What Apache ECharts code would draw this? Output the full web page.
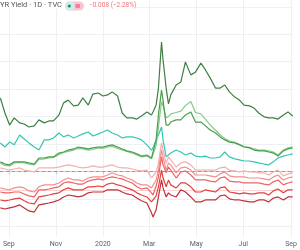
<!DOCTYPE html>
<html><head><meta charset="utf-8">
<script src="https://cdn.jsdelivr.net/npm/echarts@6/dist/echarts.min.js"></script>
<style>html,body{margin:0;padding:0;background:#fff}#c{width:300px;height:250px}</style>
</head><body><div id="c"></div>
<script>
const dates = ['2019-08-21','2019-08-27','2019-09-02','2019-09-08','2019-09-15','2019-09-21','2019-09-27','2019-10-04','2019-10-10','2019-10-17','2019-10-23','2019-10-29','2019-11-05','2019-11-11','2019-11-17','2019-11-24','2019-11-30','2019-12-06','2019-12-13','2019-12-19','2019-12-26','2020-01-01','2020-01-07','2020-01-13','2020-01-20','2020-01-26','2020-02-01','2020-02-08','2020-02-14','2020-02-20','2020-02-27','2020-03-04','2020-03-06','2020-03-10','2020-03-13','2020-03-17','2020-03-19','2020-03-23','2020-03-26','2020-03-29','2020-04-05','2020-04-11','2020-04-17','2020-04-24','2020-04-30','2020-05-07','2020-05-13','2020-05-19','2020-05-26','2020-06-01','2020-06-07','2020-06-13','2020-06-20','2020-06-26','2020-07-02','2020-07-09','2020-07-15','2020-07-21','2020-07-28','2020-08-03','2020-08-09','2020-08-15','2020-08-22','2020-08-28','2020-09-03'];

const darkGreen = [26.8,21.3,16.9,19.5,17.7,17.3,16.2,16.6,18.8,17.7,18.4,18.4,20.6,25.0,26.0,23.9,24.2,26.8,24.2,28.2,28.6,27.5,27.9,29.0,27.5,21.3,19.5,19.5,19.1,20.2,21.7,20.6,21.7,24.2,30.4,47.2,40.6,30.4,24.6,27.9,31.5,32.6,39.9,35.2,36.2,39.5,37.0,34.1,30.4,30.4,31.5,29.0,27.1,26.0,24.2,23.9,23.1,21.3,19.9,19.5,19.5,19.1,20.6,21.7,20.2];
const green = [3.5,2.7,2.4,3.5,3.5,3.5,3.1,2.7,4.9,4.9,5.3,5.3,6.7,7.1,7.8,8.2,8.9,8.6,8.2,8.6,8.9,8.9,9.3,9.7,8.9,8.2,7.5,7.1,6.4,5.6,6.0,4.9,4.2,11.5,20.6,29.7,26.0,16.9,16.9,18.0,18.8,18.8,20.6,21.7,18.0,18.0,16.6,15.1,14.0,12.6,11.5,10.7,10.4,9.7,8.9,8.6,7.8,7.5,7.5,7.1,6.7,5.6,7.5,8.2,8.6];
const lightGreen = [3.1,2.2,2.0,3.1,3.3,3.1,2.7,2.4,4.4,4.6,4.9,5.1,6.2,6.9,7.3,7.8,8.4,8.2,7.8,8.0,8.6,8.4,8.9,9.1,8.4,7.8,7.3,6.7,6.0,5.3,5.6,4.6,4.0,9.5,16.0,25.5,24.0,19.5,20.0,21.0,21.5,22.0,24.0,25.5,21.5,21.0,19.0,17.0,15.0,13.3,12.0,11.1,10.6,9.9,9.1,8.8,8.2,7.8,7.8,7.5,7.1,6.0,7.8,8.6,9.0];
const teal = [10.4,8.9,10.7,9.7,13.3,11.8,10.4,8.9,7.8,11.5,11.5,12.2,14.0,12.6,13.3,12.2,12.9,13.7,14.4,12.9,13.7,14.4,15.1,14.0,13.3,12.2,12.6,12.6,12.2,11.5,9.7,7.8,8.6,11.5,13.3,16.2,11.5,5.3,6.0,6.7,7.8,7.1,6.0,6.7,5.6,5.3,5.6,4.9,4.9,5.3,7.1,5.3,4.6,4.2,3.8,3.8,3.5,3.1,2.7,2.4,3.5,4.9,5.6,6.0,6.4];
const lightPink = [1.3,0.9,0.5,0.9,1.3,0.5,0.2,-0.2,1.3,1.3,1.3,1.3,1.6,2.0,2.4,2.0,1.6,1.3,1.6,2.0,1.6,1.6,2.0,2.4,1.6,1.3,1.3,0.9,0.5,0.2,0.5,-2.4,-3.1,-0.2,3.1,10.4,7.8,3.1,5.3,4.2,1.6,3.1,3.5,2.4,0.5,0.5,0.5,0.5,0.5,1.3,1.6,0.5,0.2,-0.2,0.2,-0.2,-0.2,-0.5,-0.5,-1.3,-0.2,0.5,-1.6,-0.9,-0.5];
const pink = [-6.0,-6.4,-6.7,-6.0,-5.6,-6.0,-7.1,-7.5,-5.6,-4.9,-4.9,-4.9,-4.2,-3.1,-2.4,-3.1,-3.1,-3.5,-2.4,-2.0,-2.0,-2.0,-1.3,-0.5,-1.3,-1.6,-2.4,-3.1,-4.2,-4.9,-4.9,-6.0,-6.7,-3.1,0.5,7.8,5.3,0.5,3.1,2.4,-0.5,1.3,1.6,0.5,-1.3,-1.3,-1.3,-1.6,-2.0,-0.9,-0.2,-1.6,-2.0,-2.0,-2.0,-2.4,-2.4,-2.4,-2.7,-3.1,-2.0,-1.3,-3.1,-2.4,-2.0];
const salmon = [-7.5,-7.8,-7.8,-7.5,-7.5,-8.2,-8.9,-9.3,-6.7,-6.7,-6.4,-6.0,-5.6,-4.2,-3.8,-4.2,-4.6,-4.6,-3.5,-3.1,-2.7,-3.1,-2.4,-2.0,-2.4,-2.7,-3.5,-4.2,-5.6,-6.4,-6.0,-7.8,-8.6,-5.3,-2.0,5.3,2.4,-0.5,1.6,0.5,-2.4,-0.2,0.2,-1.3,-3.1,-3.1,-3.1,-3.5,-3.8,-2.4,-2.0,-3.5,-3.8,-3.8,-4.2,-4.2,-4.2,-4.2,-4.6,-4.9,-3.8,-3.1,-4.9,-4.2,-3.8];
const red = [-10.4,-10.7,-10.4,-10.0,-9.7,-10.7,-11.5,-11.8,-9.3,-8.9,-8.6,-8.2,-7.8,-6.7,-6.0,-6.7,-6.7,-6.7,-5.6,-5.6,-5.3,-5.6,-4.6,-4.2,-4.9,-5.3,-6.0,-6.7,-7.8,-8.6,-9.3,-11.1,-11.5,-8.9,-5.6,0.5,-2.4,-5.6,-3.1,-4.9,-6.0,-4.2,-4.2,-5.6,-7.5,-7.5,-6.7,-7.1,-7.5,-6.0,-5.6,-7.5,-7.8,-8.2,-7.8,-8.2,-8.2,-7.8,-7.8,-8.6,-7.1,-6.4,-7.8,-6.7,-6.7];
const darkRed = [-13.3,-13.7,-13.3,-12.9,-12.2,-13.3,-14.4,-14.8,-12.2,-11.8,-11.5,-11.1,-10.4,-9.3,-8.6,-8.9,-9.3,-8.9,-7.8,-7.5,-7.5,-7.5,-6.7,-6.7,-6.7,-7.5,-8.2,-8.6,-9.7,-10.7,-11.5,-15.1,-16.6,-14.0,-9.3,-3.1,-6.0,-9.3,-7.8,-8.6,-9.3,-6.7,-7.5,-9.3,-11.1,-11.1,-10.4,-10.4,-10.4,-8.9,-8.6,-10.0,-10.4,-10.4,-10.7,-11.1,-11.1,-10.4,-10.4,-11.1,-9.7,-9.3,-10.4,-9.3,-9.3];

const tickDates = ['2019-09-01','2019-11-01','2020-01-01','2020-03-01','2020-05-01','2020-07-01','2020-09-01'];
const tickLabels = ['Sep','Nov','2020','Mar','May','Jul','Sep'];
const yGridValues = [-20,-10,0,10,20,30,40,50,60];
const baseLineValue = 0;
const priceLineValue = -6.7;
const headerTitle = 'YR Yield · 1D · TVC';
const headerChange = '\u22120.008 (\u22122.28%)';

const T = s => echarts.time.parse(s).getTime();
const tickTimes = tickDates.map(T);
const labelMap = {};
tickTimes.forEach((t, i) => labelMap[t] = tickLabels[i]);

const seriesDefs = [
  ['darkGreen', darkGreen, '#3f7f43'],
  ['teal', teal, '#35c6b2'],
  ['lightGreen', lightGreen, '#86c98a'],
  ['green', green, '#47a04b'],
  ['lightPink', lightPink, '#f6b0b0'],
  ['pink', pink, '#f38f8f'],
  ['salmon', salmon, '#ee6464'],
  ['red', red, '#e2403f'],
  ['darkRed', darkRed, '#c3303a']
];

const chart = echarts.init(document.getElementById('c'), null, {renderer: 'canvas'});
const series = [{
  type: 'line', name: 'grid', data: [], z: 0, silent: true,
  markLine: {
    silent: true, symbol: 'none', animation: false, label: {show: false}, z: 0,
    lineStyle: {color: '#edf1f4', width: 1, type: 'solid'},
    data: tickTimes.map(t => ({xAxis: t})).concat(yGridValues.map(v => ({yAxis: v})))
  }
}, {
  type: 'line', name: 'ref', data: [], z: 1, silent: true,
  markLine: {
    silent: true, symbol: 'none', animation: false, label: {show: false}, z: 1,
    data: [
      {yAxis: priceLineValue, lineStyle: {color: '#fbd3d3', width: 1, type: 'solid'}},
      {yAxis: baseLineValue, lineStyle: {color: '#9a9a9a', width: 1, type: [3, 3]}}
    ]
  }
}];
seriesDefs.forEach(([name, arr, color], k) => {
  series.push({
    type: 'line', name, showSymbol: false, symbol: 'none', z: 3 + k,
    data: dates.map((d, i) => [T(d), arr[i]]),
    lineStyle: {color, width: 1.2}, itemStyle: {color},
    animation: false
  });
});

chart.setOption({
  animation: false,
  grid: {left: 0, right: 0, top: 0, bottom: 13},
  xAxis: {
    type: 'value', min: T('2019-08-20 14:00'), max: T('2020-09-03 12:00'),
    axisLine: {lineStyle: {color: '#c8cbd0'}},
    axisTick: {show: true, customValues: tickTimes, length: 3, lineStyle: {color: '#c8cbd0'}},
    splitLine: {show: false},
    axisLabel: {
      customValues: tickTimes, color: '#5d606b', fontSize: 7, margin: 4,
      fontFamily: 'Roboto', hideOverlap: false, showMinLabel: true, showMaxLabel: true,
      formatter: v => labelMap[v] || ''
    }
  },
  yAxis: {type: 'value', min: -23.9, max: 62.5, show: false, splitLine: {show: false}},
  series,
  graphic: [
    {type: 'rect', shape: {x: 0, y: 0, width: 134, height: 9}, style: {fill: '#ffffff'}, z: 100},
    {type: 'text', x: 0, y: 1, style: {text: headerTitle, fill: '#555', font: '7.5px Roboto'}, z: 101},
    {type: 'rect', shape: {x: 65, y: 1.5, width: 19, height: 9, r: 4.5}, style: {fill: '#f8c7d2'}, z: 101},
    {type: 'rect', shape: {x: 65, y: 1.5, width: 9, height: 9, r: [4.5, 0, 0, 4.5]}, style: {fill: '#cdeee9'}, z: 102},
    {type: 'circle', shape: {cx: 69.3, cy: 6, r: 1.6}, style: {fill: '#1e8a7c'}, z: 103},
    {type: 'rect', shape: {x: 75.5, y: 4, width: 4.5, height: 4, r: 0.8}, style: {fill: '#ef7fa0'}, z: 103},
    {type: 'text', x: 89, y: 2, style: {text: headerChange, fill: '#f2707a', font: '6.5px Roboto'}, z: 101}
  ]
});
</script></body></html>
